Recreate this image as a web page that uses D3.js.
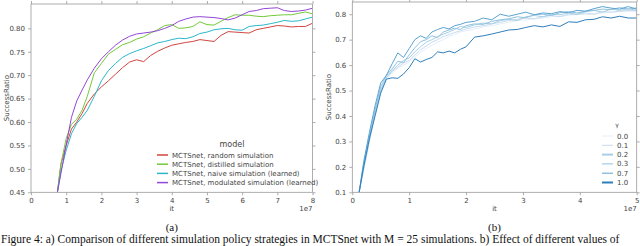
<!DOCTYPE html>
<html>
<head>
<meta charset="utf-8">
<script src="https://cdn.jsdelivr.net/npm/d3@7"></script>
<style>
  body { margin: 0; background: #fff; }
  svg { display: block; }
  .tick text { font-family: "DejaVu Sans", sans-serif; font-size: 7px; fill: #444; }
</style>
</head>
<body>
<div id="chart"></div>
<script>
// ---- left panel (a): simulation policies ----
const itA = [0.75, 0.85, 1.0, 1.15, 1.3, 1.45, 1.6, 1.8, 2.0, 2.2, 2.4, 2.6, 2.8, 3.0, 3.2, 3.4, 3.6, 3.8, 4.0,
  4.2, 4.4, 4.6, 4.8, 5.0, 5.2, 5.4, 5.6, 5.8, 6.0, 6.2, 6.4, 6.6, 6.8, 7.0, 7.2, 7.4, 7.6, 7.8, 8.0];
const randomSim = [0.45, 0.51, 0.55, 0.585, 0.6, 0.618, 0.64, 0.66, 0.675, 0.688, 0.702, 0.716, 0.728, 0.733, 0.729,
  0.742, 0.751, 0.758, 0.764, 0.767, 0.77, 0.772, 0.776, 0.774, 0.772, 0.785, 0.793, 0.792, 0.791, 0.79, 0.797, 0.8,
  0.803, 0.806, 0.805, 0.803, 0.804, 0.804, 0.811];
const distilledSim = [0.45, 0.51, 0.565, 0.595, 0.606, 0.625, 0.655, 0.705, 0.725, 0.745, 0.755, 0.765, 0.77, 0.777,
  0.782, 0.79, 0.797, 0.806, 0.808, 0.8, 0.801, 0.804, 0.814, 0.808, 0.807, 0.815, 0.823, 0.829, 0.828, 0.828, 0.826,
  0.825, 0.827, 0.828, 0.829, 0.829, 0.832, 0.835, 0.831];
const naiveSim = [0.45, 0.495, 0.54, 0.575, 0.597, 0.61, 0.625, 0.655, 0.688, 0.71, 0.725, 0.738, 0.746, 0.752, 0.757,
  0.763, 0.769, 0.772, 0.776, 0.779, 0.778, 0.782, 0.789, 0.792, 0.797, 0.799, 0.8, 0.797, 0.796, 0.804, 0.806, 0.807,
  0.81, 0.813, 0.817, 0.815, 0.816, 0.82, 0.824];
const modulatedSim = [0.45, 0.49, 0.552, 0.61, 0.645, 0.668, 0.69, 0.715, 0.735, 0.75, 0.764, 0.775, 0.783, 0.788,
  0.79, 0.792, 0.795, 0.8, 0.806, 0.815, 0.82, 0.824, 0.825, 0.824, 0.823, 0.821, 0.818, 0.822, 0.829, 0.836, 0.838,
  0.842, 0.843, 0.844, 0.838, 0.836, 0.837, 0.839, 0.843];
const modelNames = ["MCTSnet, random simulation", "MCTSnet, distilled simulation",
  "MCTSnet, naive simulation (learned)", "MCTSnet, modulated simulation (learned)"];
const modelColors = ["#d0453f", "#72c93a", "#2ab7c9", "#9446d6"];
const ticksA_x = [0, 1, 2, 3, 4, 5, 6, 7, 8];
const ticksA_y = [0.45, 0.5, 0.55, 0.6, 0.65, 0.7, 0.75, 0.8];

// ---- right panel (b): gamma values ----
const itB = [0.12, 0.2, 0.3, 0.4, 0.5, 0.6, 0.7, 0.8, 0.9, 1.0, 1.1, 1.2, 1.3, 1.4, 1.5, 1.6, 1.7, 1.8, 1.9, 2.0,
  2.15, 2.3, 2.45, 2.6, 2.75, 2.9, 3.05, 3.2, 3.35, 3.5, 3.65, 3.8, 3.95, 4.1, 4.25, 4.4, 4.55, 4.7, 4.85, 5.0];
const gamma00 = [0.1, 0.2, 0.305, 0.41, 0.5, 0.545, 0.568, 0.588, 0.6, 0.612, 0.632, 0.65, 0.665, 0.678, 0.69, 0.7,
  0.712, 0.72, 0.73, 0.735, 0.742, 0.75, 0.755, 0.762, 0.768, 0.775, 0.778, 0.782, 0.785, 0.79, 0.792, 0.795, 0.8,
  0.798, 0.8, 0.805, 0.808, 0.81, 0.81, 0.81];
const gamma01 = [0.1, 0.2, 0.31, 0.415, 0.505, 0.548, 0.575, 0.592, 0.608, 0.618, 0.64, 0.66, 0.675, 0.69, 0.7,
  0.712, 0.72, 0.728, 0.735, 0.742, 0.75, 0.755, 0.762, 0.768, 0.775, 0.78, 0.785, 0.782, 0.79, 0.795, 0.79, 0.8,
  0.798, 0.805, 0.8, 0.81, 0.808, 0.812, 0.815, 0.815];
const gamma02 = [0.1, 0.19, 0.3, 0.41, 0.5, 0.552, 0.578, 0.6, 0.618, 0.628, 0.652, 0.672, 0.69, 0.7, 0.712, 0.722,
  0.73, 0.74, 0.752, 0.748, 0.758, 0.765, 0.762, 0.775, 0.78, 0.775, 0.79, 0.795, 0.79, 0.8, 0.798, 0.805, 0.8, 0.81,
  0.815, 0.808, 0.82, 0.815, 0.822, 0.815];
const gamma03 = [0.1, 0.21, 0.32, 0.425, 0.515, 0.56, 0.585, 0.615, 0.61, 0.64, 0.668, 0.692, 0.7, 0.715, 0.708,
  0.73, 0.738, 0.745, 0.74, 0.755, 0.762, 0.76, 0.772, 0.778, 0.782, 0.79, 0.786, 0.798, 0.8, 0.795, 0.806, 0.81,
  0.805, 0.812, 0.815, 0.82, 0.818, 0.826, 0.82, 0.825];
const gamma07 = [0.1, 0.22, 0.335, 0.44, 0.53, 0.56, 0.605, 0.648, 0.63, 0.665, 0.7, 0.715, 0.705, 0.73, 0.74, 0.748,
  0.742, 0.755, 0.76, 0.768, 0.772, 0.785, 0.778, 0.8, 0.792, 0.8, 0.808, 0.798, 0.805, 0.802, 0.81, 0.806, 0.815,
  0.812, 0.822, 0.83, 0.824, 0.82, 0.83, 0.82];
const gamma10 = [0.1, 0.2, 0.31, 0.4, 0.49, 0.545, 0.55, 0.548, 0.565, 0.59, 0.625, 0.612, 0.622, 0.63, 0.652, 0.648,
  0.655, 0.648, 0.662, 0.672, 0.71, 0.715, 0.722, 0.73, 0.738, 0.74, 0.748, 0.755, 0.75, 0.758, 0.752, 0.77, 0.768,
  0.778, 0.78, 0.79, 0.785, 0.792, 0.785, 0.785];
const gammaNames = ["0.0", "0.1", "0.2", "0.3", "0.7", "1.0"];
const gammaColors = ["#e3eef9", "#c6dbef", "#a8cee5", "#8fc1de", "#5ba3d0", "#2f7ebc"];
const ticksB_x = [0, 1, 2, 3, 4, 5];
const ticksB_y = [0.1, 0.2, 0.3, 0.4, 0.5, 0.6, 0.7, 0.8];

const width = 640;
const height = 246;
const spine = "#999";

const svg = d3.select("#chart").append("svg")
  .attr("width", width)
  .attr("height", height)
  .style("font-family", "'DejaVu Sans', sans-serif");

svg.append("rect").attr("width", width).attr("height", height).attr("fill", "#fff");

function panel(opts) {
  const x = d3.scaleLinear().domain(opts.xDomain).range([opts.left, opts.right]);
  const y = d3.scaleLinear().domain(opts.yDomain).range([opts.bottom, opts.top]);
  const g = svg.append("g");

  const clipId = "clip-" + opts.id;
  svg.append("clipPath").attr("id", clipId)
    .append("rect")
    .attr("x", opts.left).attr("y", opts.top)
    .attr("width", opts.right - opts.left).attr("height", opts.bottom - opts.top);

  const line = d3.line().x((d) => x(d[0])).y((d) => y(d[1]));
  const lines = g.append("g").attr("clip-path", "url(#" + clipId + ")");
  opts.series.forEach((s, i) => {
    lines.append("path")
      .attr("d", line(opts.xs.map((v, j) => [v, s[j]])))
      .attr("fill", "none")
      .attr("stroke", opts.colors[i])
      .attr("stroke-width", 1);
  });

  g.append("g").attr("transform", `translate(0,${opts.bottom})`)
    .call(d3.axisBottom(x).tickValues(opts.xTicks).tickSize(3).tickPadding(3).tickFormat(d3.format("d")));
  g.append("g").attr("transform", `translate(0,${opts.top})`)
    .call(d3.axisTop(x).tickValues(opts.xTicks).tickSize(3).tickFormat(""));
  g.append("g").attr("transform", `translate(${opts.left},0)`)
    .call(d3.axisLeft(y).tickValues(opts.yTicks).tickSize(3).tickPadding(3).tickFormat(opts.fmtY));
  g.append("g").attr("transform", `translate(${opts.right},0)`)
    .call(d3.axisRight(y).tickValues(opts.yTicks).tickSize(3).tickFormat(""));
  g.selectAll(".domain").remove();
  g.selectAll(".tick line").attr("stroke", spine).attr("stroke-width", 0.8);

  g.append("rect")
    .attr("x", opts.left).attr("y", opts.top)
    .attr("width", opts.right - opts.left).attr("height", opts.bottom - opts.top)
    .attr("fill", "none").attr("stroke", spine).attr("stroke-width", 0.8);

  g.append("text")
    .attr("x", (opts.left + opts.right) / 2).attr("y", opts.bottom + 19)
    .attr("text-anchor", "middle").attr("font-size", 7).attr("fill", "#444").text("it");
  g.append("text")
    .attr("x", opts.right).attr("y", opts.bottom + 19)
    .attr("text-anchor", "end").attr("font-size", 7).attr("fill", "#444").text("1e7");
  g.append("text")
    .attr("transform", `translate(${opts.yLabelX},${(opts.top + opts.bottom) / 2}) rotate(-90)`)
    .attr("text-anchor", "middle").attr("font-size", 7).attr("fill", "#444").text("SuccessRatio");

  // legend
  const lg = g.append("g");
  lg.append("text")
    .attr("x", opts.legend.titleX).attr("y", opts.legend.titleY)
    .attr("text-anchor", "middle").attr("font-size", opts.legend.titleSize).attr("fill", "#444")
    .text(opts.legend.title);
  opts.names.forEach((n, i) => {
    const yy = opts.legend.y0 + i * opts.legend.dy;
    lg.append("line")
      .attr("x1", opts.legend.x0).attr("x2", opts.legend.x0 + opts.legend.len)
      .attr("y1", yy).attr("y2", yy)
      .attr("stroke", opts.colors[i]).attr("stroke-width", opts.legend.sw[i]);
    lg.append("text")
      .attr("x", opts.legend.x0 + opts.legend.len + 4).attr("y", yy + 2.5)
      .attr("font-size", 7).attr("fill", "#444").text(n);
  });

  svg.append("text")
    .attr("x", (opts.left + opts.right) / 2).attr("y", 231)
    .attr("text-anchor", "middle")
    .attr("font-family", "'Liberation Serif', serif").attr("font-size", 11).attr("fill", "#111")
    .text(opts.caption);
}

panel({
  id: "a", left: 31, right: 312.5, top: 4, bottom: 192.3,
  xDomain: [0, 8], yDomain: [0.45, 0.852],
  xs: itA, series: [randomSim, distilledSim, naiveSim, modulatedSim],
  colors: modelColors, names: modelNames,
  xTicks: ticksA_x, yTicks: ticksA_y, fmtY: d3.format(".2f"),
  yLabelX: 9,
  legend: { title: "model", titleX: 232, titleY: 147, titleSize: 8, x0: 157, len: 11, y0: 155, dy: 9.2,
    sw: [1.5, 1.5, 1.5, 1.5] },
  caption: "(a)"
});

panel({
  id: "b", left: 352.3, right: 636.7, top: 2, bottom: 192.3,
  xDomain: [0, 5], yDomain: [0.1, 0.848],
  xs: itB, series: [gamma00, gamma01, gamma02, gamma03, gamma07, gamma10],
  colors: gammaColors, names: gammaNames,
  xTicks: ticksB_x, yTicks: ticksB_y, fmtY: d3.format(".1f"),
  yLabelX: 331,
  legend: { title: "γ", titleX: 617, titleY: 127, titleSize: 6, x0: 602, len: 11, y0: 136, dy: 9.3,
    sw: [1, 1, 2, 1, 1, 2] },
  caption: "(b)"
});

svg.append("text")
  .attr("x", 1).attr("y", 242.5)
  .attr("font-family", "'Liberation Serif', serif").attr("font-size", 11.5).attr("fill", "#111")
  .text("Figure 4: a) Comparison of different simulation policy strategies in MCTSnet with M = 25 simulations. b) Effect of different values of");
</script>
</body>
</html>
